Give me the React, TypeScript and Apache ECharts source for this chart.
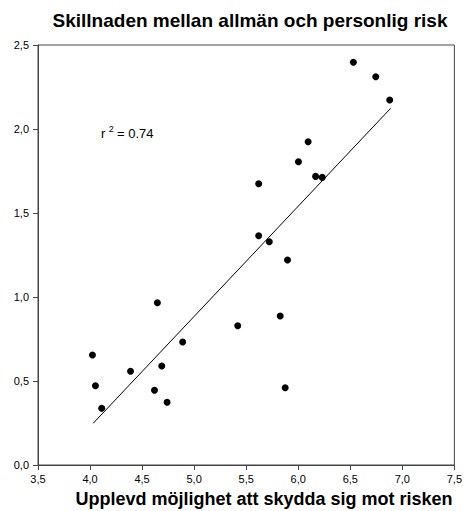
import React, { useEffect, useRef } from "react";
import * as echarts from "echarts";

const xValues = [6.53, 6.745, 6.879, 6.095, 6.002, 6.167, 6.231, 5.62, 5.62, 5.722, 5.897, 5.827, 5.875, 4.647, 5.419, 4.89, 4.023, 4.389, 4.689, 4.052, 4.619, 4.74, 4.112];
const yValues = [2.397, 2.311, 2.173, 1.924, 1.805, 1.718, 1.712, 1.674, 1.365, 1.329, 1.22, 0.887, 0.46, 0.966, 0.829, 0.732, 0.655, 0.558, 0.589, 0.472, 0.445, 0.373, 0.338];
const fitX = [4.03, 6.888];
const fitY = [0.248, 2.123];
const title = "Skillnaden mellan allmän och personlig risk";
const xTitle = "Upplevd möjlighet att skydda sig mot risken";
const rText = "0.74";

const fmt = (v: number) => v.toFixed(1).replace(".", ",");

export default function App() {
  const ref = useRef<HTMLDivElement>(null);
  useEffect(() => {
    if (!ref.current) return;
    const chart = echarts.init(ref.current, null, { renderer: "svg" });
    const font = "Liberation Sans, Arial, sans-serif";
    chart.setOption({
      animation: false,
      backgroundColor: "#fff",
      graphic: [
        {
          type: "text",
          x: 250,
          y: 20,
          style: {
            text: title,
            align: "center",
            verticalAlign: "middle",
            fontFamily: font,
            fontSize: 19,
            fontWeight: "bold",
            fill: "#000",
          },
        },
        {
          type: "text",
          x: 264,
          y: 499,
          style: {
            text: xTitle,
            align: "center",
            verticalAlign: "middle",
            fontFamily: font,
            fontSize: 18,
            fontWeight: "bold",
            fill: "#000",
          },
        },
        {
          type: "text",
          x: 101,
          y: 124,
          style: {
            text: "{a|r} {s|2} {a|= " + rText + "}",
            rich: {
              a: { fontFamily: font, fontSize: 13, fill: "#000", verticalAlign: "bottom", lineHeight: 16 },
              s: { fontFamily: font, fontSize: 9, fill: "#000", verticalAlign: "top", lineHeight: 16, padding: [0, 0, 6, 0] },
            },
          },
        },
      ],
      grid: {
        left: 38,
        right: 8,
        top: 45,
        bottom: 46,
        show: true,
        borderColor: "#444",
        borderWidth: 1,
        backgroundColor: "transparent",
      },
      xAxis: {
        type: "value",
        min: 3.5,
        max: 7.5,
        interval: 0.5,
        axisLine: { show: true, lineStyle: { color: "#444", width: 1 } },
        axisTick: { show: true, length: 5, lineStyle: { color: "#444" } },
        splitLine: { show: false },
        axisLabel: { formatter: fmt, fontFamily: font, fontSize: 11, color: "#000", margin: 8 },
      },
      yAxis: {
        type: "value",
        min: 0,
        max: 2.5,
        interval: 0.5,
        axisLine: { show: true, lineStyle: { color: "#444", width: 1 } },
        axisTick: { show: true, length: 5, lineStyle: { color: "#444" } },
        splitLine: { show: false },
        axisLabel: { formatter: fmt, fontFamily: font, fontSize: 11, color: "#000", margin: 9 },
      },
      series: [
        {
          type: "line",
          data: fitX.map((x, i) => [x, fitY[i]]),
          symbol: "none",
          lineStyle: { color: "#000", width: 1 },
          silent: true,
        },
        {
          type: "scatter",
          data: xValues.map((x, i) => [x, yValues[i]]),
          symbol: "circle",
          symbolSize: 7,
          itemStyle: { color: "#000", opacity: 1 },
        },
      ],
    });
    return () => chart.dispose();
  }, []);
  return <div ref={ref} style={{ width: 465, height: 511, position: "absolute", left: 0, top: 0 }} />;
}
